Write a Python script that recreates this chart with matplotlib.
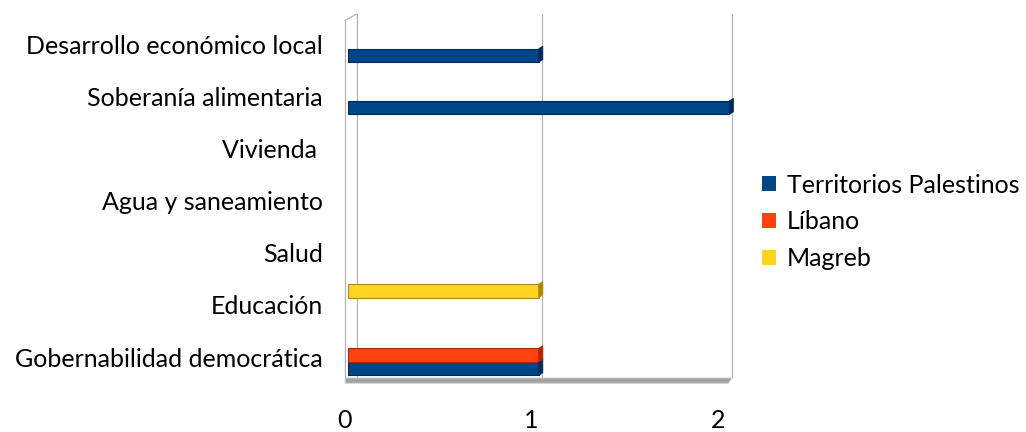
import matplotlib
matplotlib.use("Agg")
import matplotlib.pyplot as plt
import matplotlib.transforms as mtransforms
import numpy as np
from matplotlib.patches import Polygon, Rectangle

categories = ["Gobernabilidad democrática", "Educación", "Salud", "Agua y saneamiento",
              "Vivienda ", "Soberanía alimentaria", "Desarrollo económico local"]
series_names = ["Territorios Palestinos", "Líbano", "Magreb"]
territorios = [1, 0, 0, 0, 0, 2, 1]
libano = [1, 0, 0, 0, 0, 0, 0]
magreb = [0, 1, 0, 0, 0, 0, 0]
colors = ["#004586", "#ff420e", "#ffd320"]
edge_colors = ["#002a55", "#a82a08", "#a88a10"]
xticks = [0, 1, 2]

plt.rcParams['font.family'] = ['Lato', 'DejaVu Sans']
fig = plt.figure(figsize=(10.26, 4.32), dpi=100)
ax = fig.add_axes([348/1026, 1 - 378/432, (735-348)/1026, (378-14)/432])

y = np.arange(len(categories))
h = 0.26
offsets = [-0.22, 0.04, 0.27]
data = [territorios, libano, magreb]
for vals, off, c, ec, name in zip(data, offsets, colors, edge_colors, series_names):
    vals = np.array(vals, dtype=float)
    mask = vals > 0
    ax.barh((y + off)[mask], vals[mask], height=h, color=c, edgecolor=ec, linewidth=0.8,
            label=name, zorder=3)
    for yi, v in zip((y + off)[mask], vals[mask]):
        cap = Polygon([[v, yi - h/2], [v + 0.022, yi - h/2 + 0.05],
                       [v + 0.022, yi + h/2 + 0.05], [v, yi + h/2]],
                      closed=True, facecolor=ec, edgecolor=ec, lw=0.5, zorder=4)
        ax.add_patch(cap)

ax.set_xlim(0, 2.03)
ax.set_ylim(-0.4, 6.575)
ax.set_yticks(y)
ax.set_yticklabels(categories, fontsize=18)
ax.set_xticks(xticks)
ax.set_xticklabels([str(t) for t in xticks], fontsize=18)
ax.tick_params(axis='both', length=0)
ax.tick_params(axis='y', pad=18)
ax.tick_params(axis='x', pad=22)
shifts = [-3, -7, -11]
for lab, s in zip(ax.get_xticklabels(), shifts):
    lab.set_transform(lab.get_transform() + mtransforms.ScaledTranslation(s/100, 0, fig.dpi_scale_trans))
for s in ax.spines.values():
    s.set_visible(False)
grid_c = "#b3b3b3"
for t in xticks[1:]:
    ax.axvline(t + 0.015, color=grid_c, lw=0.9, zorder=1)
ax.axvline(0.045, color=grid_c, lw=0.9, zorder=1)
ax.plot([-0.015, -0.015], [-0.4, 6.45], color=grid_c, lw=0.9, clip_on=False, zorder=1)
ax.plot([-0.015, 0.045], [6.45, 6.575], color=grid_c, lw=0.9, clip_on=False, zorder=1)

# floor
floor = Polygon([[-0.015, -0.4], [2.015, -0.4], [1.995, -0.5], [-0.015, -0.5]], closed=True,
                facecolor="#a3a3a3", edgecolor="#cfcfcf", lw=0.6, clip_on=False, zorder=2)
ax.add_patch(floor)

handles = [Rectangle((0, 0), 1, 1, facecolor=c) for c in colors]
fig.legend(handles, series_names, loc="center left", bbox_to_anchor=(752/1026, 1 - 222/432),
           frameon=False, fontsize=18, handlelength=0.55, handleheight=0.55,
           handletextpad=0.45, labelspacing=0.55, borderaxespad=0)

fig.savefig("out.png", dpi=100)
